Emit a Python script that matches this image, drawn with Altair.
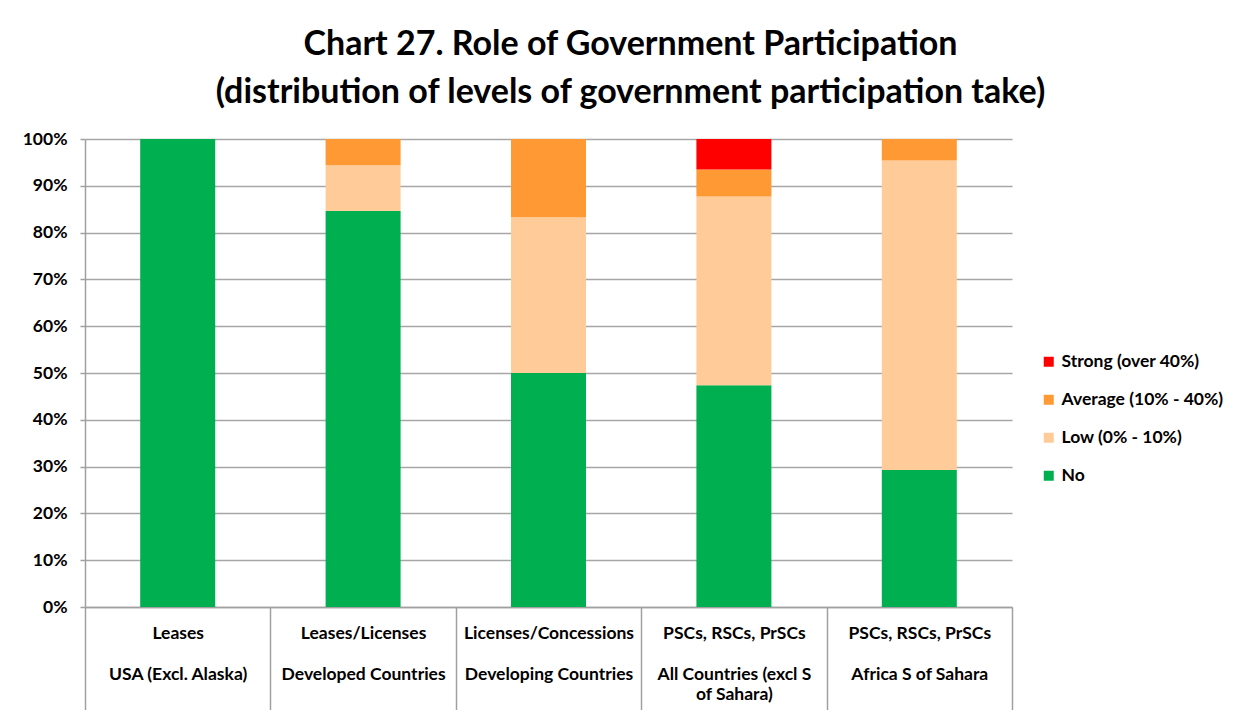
import altair as alt
import pandas as pd

contract_types = ["Leases", "Leases/Licenses", "Licenses/Concessions", "PSCs, RSCs, PrSCs", "PSCs, RSCs, PrSCs"]
regions = ["USA (Excl. Alaska)", "Developed Countries", "Developing Countries", "All Countries (excl  S|of Sahara)", "Africa S of Sahara"]

levels = ["Strong (over 40%)", "Average (10% - 40%)", "Low (0% - 10%)", "No"]
colors = ["#FF0000", "#FF9933", "#FFCC99", "#00B050"]

no_vals = [100.0, 84.6, 50.0, 47.4, 29.3]
low_vals = [0.0, 9.8, 33.3, 40.3, 66.1]
avg_vals = [0.0, 5.6, 16.7, 5.8, 4.6]
strong_vals = [0.0, 0.0, 0.0, 6.5, 0.0]

categories = [f"{c}|\u200b|{r}" for c, r in zip(contract_types, regions)]
series = {"No": no_vals, "Low (0% - 10%)": low_vals, "Average (10% - 40%)": avg_vals, "Strong (over 40%)": strong_vals}
stack_rank = {"No": 0, "Low (0% - 10%)": 1, "Average (10% - 40%)": 2, "Strong (over 40%)": 3}

rows = []
for lvl, vals in series.items():
    for i, cat in enumerate(categories):
        rows.append({"cat": cat, "level": lvl, "value": vals[i] / 100.0, "rank": stack_rank[lvl], "idx": i})
df = pd.DataFrame(rows)

FONT = "Lato"
LBL = 17.5

chart = alt.Chart(df).mark_bar(size=75).encode(
    x=alt.X("cat:N", sort=categories, title=None,
            scale=alt.Scale(paddingInner=0, paddingOuter=0),
            axis=alt.Axis(labelAngle=0, labelExpr="split(datum.label, '|')",
                          labelLineHeight=20.5, labelFontSize=LBL, labelFont=FONT,
                          labelFontWeight="bold", labelColor="#000000",
                          labelPadding=-86, tickBand="extent", tickSize=103,
                          tickColor="#A0A0A0", tickWidth=1.5, labelLimit=300,
                          domainColor="#A0A0A0", domainWidth=1.5, grid=False)),
    y=alt.Y("value:Q", stack="zero", title=None,
            scale=alt.Scale(domain=[0, 1], nice=False),
            axis=alt.Axis(format=".0%", values=[i / 10 for i in range(11)],
                          labelFontSize=LBL, labelFont=FONT, labelFontWeight="bold",
                          labelColor="#000000", labelPadding=13, tickSize=5,
                          tickColor="#A0A0A0", tickWidth=1.5,
                          domainColor="#A0A0A0", domainWidth=1.5,
                          grid=True, gridColor="#A6A6A6", gridWidth=1.5)),
    color=alt.Color("level:N", scale=alt.Scale(domain=levels, range=colors),
                    legend=alt.Legend(title=None, orient="none", legendX=955, legendY=214,
                                      symbolType="square", symbolSize=100,
                                      symbolStrokeWidth=0, rowPadding=19, labelLimit=300,
                                      labelFontSize=LBL, labelFont=FONT,
                                      labelFontWeight="bold", labelColor="#000000")),
    order=alt.Order("rank:Q", sort="ascending"),
).properties(
    width=927,
    height=468,
    title=alt.TitleParams(
        text=["Chart 27. Role of Government Participation",
              "(distribution of levels of government participation take)"],
        font=FONT, fontSize=34, fontWeight="bold", color="#000000",
        anchor="middle", dx=82, offset=20, lineHeight=48,
    ),
    autosize=alt.AutoSizeParams(type="none"),
    padding={"left": 77, "top": 131, "right": 230, "bottom": 103},
).configure_view(stroke=None)

chart.save("out.html", embed_options={"renderer": "svg", "actions": False})
